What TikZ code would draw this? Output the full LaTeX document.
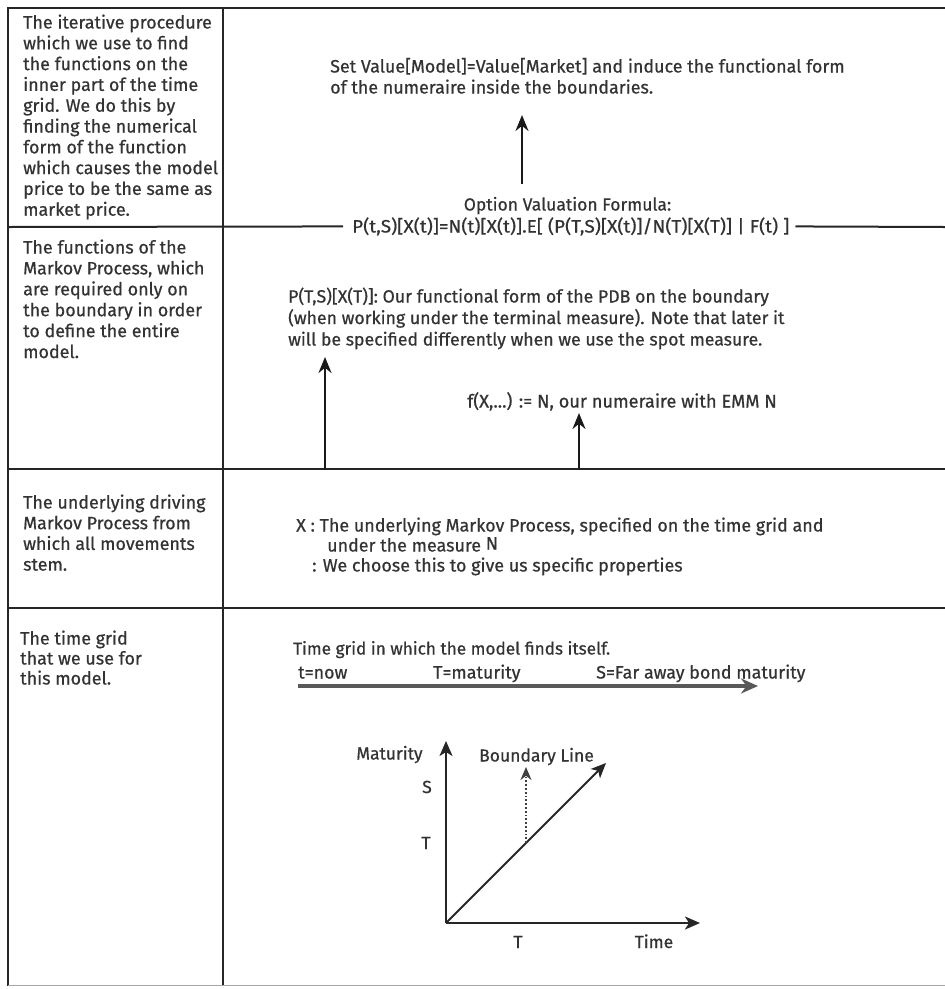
\documentclass[tikz,border=0pt]{standalone}
\usepackage{fontspec}
\setmainfont{Fira Sans}[FakeBold=0.6]
\usetikzlibrary{arrows.meta}
\begin{document}
\begin{tikzpicture}[x=1pt,y=-1pt,
  txt/.style={inner sep=0pt, anchor=base west, align=left, text=black!80,
    font=\fontsize{17.9}{20.8}\selectfont},
  lbl/.style={inner sep=0pt, anchor=base, text=black!80, font=\fontsize{17.5}{20}\selectfont},
  gridline/.style={line width=2pt, black!85},
  uparrow/.style={line width=2.4pt, black!90, -{Stealth[length=16pt,width=13pt]}},
  axis/.style={line width=2.2pt, black!85, -{Stealth[length=15pt,width=13pt,inset=4pt]}},
  timearrow/.style={line width=3.5pt, black!65, -{Stealth[length=17pt,width=15pt]}},
  dotarrow/.style={line width=1.8pt, black!75, dotted, -{Stealth[length=13pt,width=11pt]}},
]
\useasboundingbox (0,0) rectangle (945,989);
\fill[white] (0,0) rectangle (945,989);

% ---------- table grid ----------
\draw[gridline] (945,8) -- (8,8) -- (8,986);
\draw[gridline] (223,8) -- (223,986);
\draw[gridline] (8,469) -- (945,469);
\draw[gridline] (8,608) -- (945,608);
\draw[line width=0.8pt, black!35] (8,985) -- (945,985);

% ---------- left column (anchor = baseline of last line) ----------
\node[txt, font=\fontsize{17.9}{20.8}\selectfont] (d1) at (23,215.7) {The iterative procedure\\which we use to find\\the functions on the\\inner part of the time\\grid. We do this by\\finding the numerical\\form of the function\\which causes the model\\price to be the same as\\market price.};
\node[txt, font=\fontsize{17.9}{20.9}\selectfont] (d2) at (23,358) {The functions of the\\Markov Process, which\\are required only on\\the boundary in order\\to define the entire\\model.};
\node[txt, font=\fontsize{17.9}{20.7}\selectfont] (d3) at (23,570.6) {The underlying driving\\Markov Process from\\which all movements\\stem.};
\node[txt, font=\fontsize{17.9}{20}\selectfont] (d4) at (20,684.5) {The time grid\\that we use for\\this model.};

% ---------- row 1 ----------
\node[txt, font=\fontsize{17.9}{21}\selectfont] (setval) at (330,93.5) {Set Value[Model]=Value[Market] and induce the functional form\\of the numeraire inside the boundaries.};
\node[lbl] (optlbl) at (567.5,210.5) {Option Valuation Formula:};
\node[txt] (formula) at (352,232.5) {\scalebox{1.058}[1]{P(t,S)[X(t)]=N(t)[X(t)].E[ (P(T,S)[X(t)]/N(T)[X(T)] | F(t) ]}};
\coordinate (fl) at ([xshift=-9pt]formula.west);
\coordinate (fr) at ([xshift=6pt]formula.east);
\draw[gridline] (8,227) -- (fl);
\draw[gridline] (fr) -- (945,227);
\coordinate (a1s) at (522,184);
\coordinate (a1e) at (522,115);
\draw[uparrow] (a1s) -- (a1e);

% ---------- row 2 ----------
\node[txt, font=\fontsize{17.7}{21.5}\selectfont] (pdb) at (288,345.5) {P(T,S)[X(T)]: Our functional form of the PDB on the boundary\\(when working under the terminal measure). Note that later it\\will be specified differently when we use the spot measure.};
\node[txt, font=\fontsize{18.2}{20}\selectfont] (numer) at (467,407.5) {f(X,...) := N, our numeraire with EMM N};
\coordinate (a2s) at (325,469);
\coordinate (a2e) at (325,357);
\coordinate (a3s) at (579,469);
\coordinate (a3e) at (579,413);
\draw[uparrow] (a2s) -- (a2e);
\draw[uparrow] (a3s) -- (a3e);

% ---------- row 3 ----------
\node[txt] (xdef) at (296,531.5) {X : The underlying Markov Process, specified on the time grid and};
\node[txt] (xmeas) at (327,551.5) {under the measure \raisebox{2pt}{N}};
\node[txt] (xprop) at (312,571.5) {: We choose this to give us specific properties};

% ---------- row 4 ----------
\node[txt, font=\fontsize{17.2}{20}\selectfont] (tgrid) at (293,654.5) {Time grid in which the model finds itself.};
\node[txt] (tnow) at (298,678.5) {t=now};
\node[txt] (tmat) at (433,678.5) {T=maturity};
\node[txt] (smat) at (596,678.5) {S=Far away bond maturity};
\coordinate (ts) at (298,686);
\coordinate (te) at (758,686);
\draw[timearrow] (ts) -- (te);

% axes
\coordinate (O) at (446,923);
\coordinate (Ytip) at (446,741);
\coordinate (Xtip) at (700,923);
\coordinate (Dtip) at (606,763);
\coordinate (Db) at (526,843);
\coordinate (Dt) at (526,767);
\draw[axis] (O) -- (Ytip);
\draw[axis] (O) -- (Xtip);
\draw[axis, line width=1.8pt] (O) -- (Dtip);
\draw[dotarrow] (Db) -- (Dt);
\node[lbl] (mat) at (389.5,759.5) {Maturity};
\node[lbl] (bline) at (536.5,761.5) {Boundary Line};
\node[lbl] (ls) at (427,793) {S};
\node[lbl] (lt) at (426,849) {T};
\node[lbl] (bt) at (518,948) {T};
\node[lbl] (btime) at (654,948) {Time};
\end{tikzpicture}
\end{document}
